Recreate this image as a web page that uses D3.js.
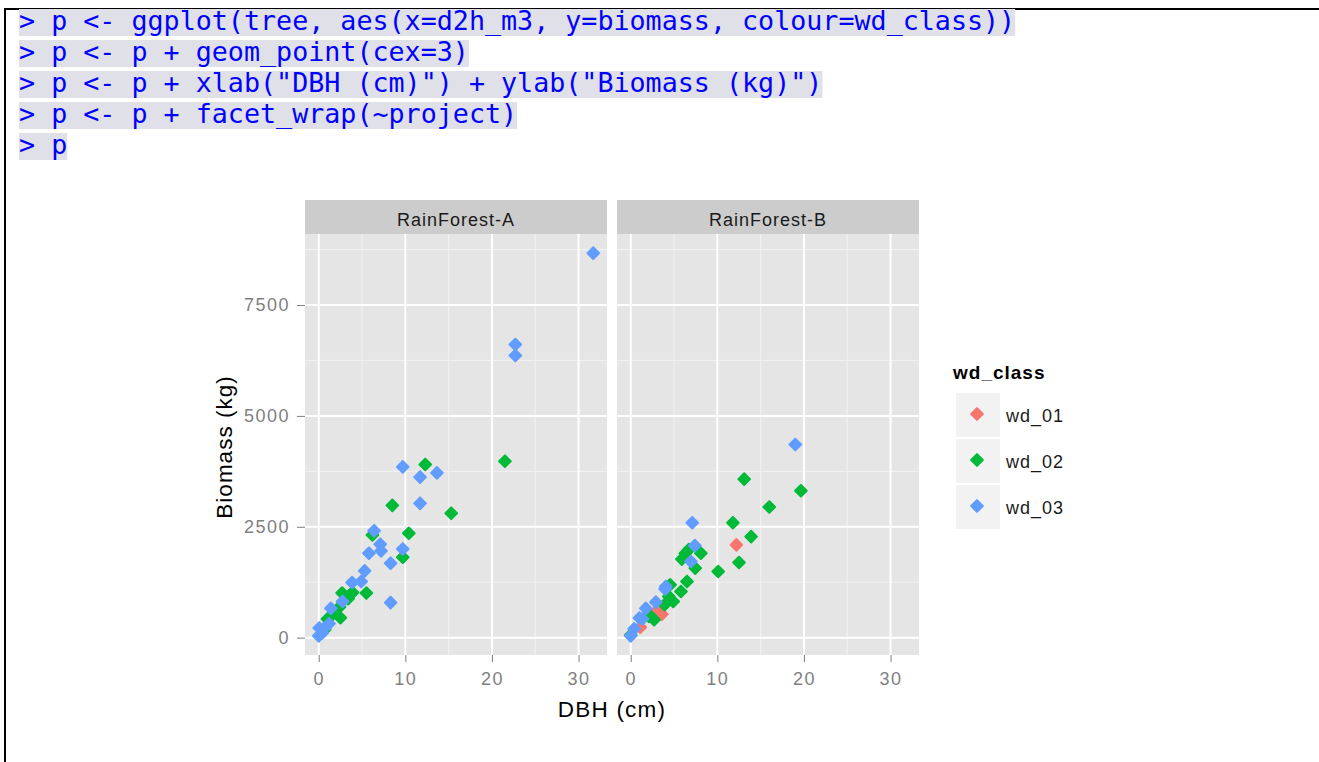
<!DOCTYPE html>
<html>
<head>
<meta charset="utf-8">
<script src="https://cdn.jsdelivr.net/npm/d3@7"></script>
<style>
  body { margin: 0; background: #fff; }
  svg { display: block; }
  .sans { font-family: Arial, "Liberation Sans", sans-serif; }
</style>
</head>
<body>
<svg id="chart" width="1319" height="762"></svg>
<script>
// console lines shown above the plot
const consoleLines = [
    '> p <- ggplot(tree, aes(x=d2h_m3, y=biomass, colour=wd_class))',
    '> p <- p + geom_point(cex=3)',
    '> p <- p + xlab("DBH (cm)") + ylab("Biomass (kg)")',
    '> p <- p + facet_wrap(~project)',
    '> p'
];

const projects = ["RainForest-A", "RainForest-B"];
const classes = ["wd_01", "wd_02", "wd_03"];
const classColours = ["#F8766D", "#00BA38", "#619CFF"];

const xTicks = [0, 10, 20, 30];
const xMinor = [5, 15, 25];
const yTicks = [0, 2500, 5000, 7500];
const yMinor = [1250, 3750, 6250, 8750];

// [DBH, biomass]
const rainA_wd01 = [];
const rainA_wd02 = [
    [12.3, 3904], [21.5, 3979], [8.5, 2983], [15.3, 2803], [6.2, 2315], [10.4, 2353],
    [9.7, 1814], [5.5, 1005], [2.7, 1005], [3.9, 1018], [3.4, 880], [2.4, 690],
    [2.5, 450], [1.0, 420], [1.6, 520], [0.7, 180], [3.6, 960]
];
const rainA_wd03 = [
    [31.7, 8670], [22.7, 6610], [22.7, 6362], [9.7, 3851], [11.7, 3619], [13.65, 3716],
    [11.7, 3028], [6.4, 2412], [7.1, 2106], [7.2, 1956], [5.8, 1904], [9.7, 2000],
    [8.3, 1679], [5.3, 1506], [4.9, 1265], [3.85, 1243], [8.3, 790], [2.75, 816],
    [1.4, 660], [1.2, 315], [0.5, 190], [0.06, 218], [0, 40], [0.4, 106]
];
const rainB_wd01 = [[12.2, 2091], [3.1, 630], [3.6, 530], [1.1, 236]];
const rainB_wd02 = [
    [13.1, 3574], [19.65, 3311], [16.0, 2945], [11.8, 2592], [13.9, 2277], [8.1, 1904],
    [6.7, 1985], [6.3, 1900], [5.9, 1770], [7.45, 1567], [12.5, 1693], [10.1, 1490],
    [6.5, 1266], [4.55, 1191], [5.8, 1041], [4.4, 928], [4.9, 816], [3.9, 742],
    [2.1, 517], [2.7, 405], [2.1, 479], [0, 60]
];
const rainB_wd03 = [
    [19.0, 4354], [7.1, 2592], [7.4, 2075], [6.95, 1715], [3.97, 1095], [4.05, 1153],
    [2.9, 800], [1.74, 660], [1.0, 443], [1.35, 420], [0.4, 200], [0, 40]
];

const panelData = [
    [rainA_wd01, rainA_wd02, rainA_wd03],
    [rainB_wd01, rainB_wd02, rainB_wd03]
];

drawChart();

function expand(ext) {
    const pad = (ext[1] - ext[0]) * 0.05;
    return [ext[0] - pad, ext[1] + pad];
}

function drawChart() {
    let svg = d3.select("#chart");

    // console frame
    svg.append("line").attr("x1", 5).attr("x2", 1319).attr("y1", 9).attr("y2", 9)
        .attr("stroke", "#000").attr("stroke-width", 2);
    svg.append("line").attr("x1", 5).attr("x2", 5).attr("y1", 8).attr("y2", 762)
        .attr("stroke", "#000").attr("stroke-width", 2);

    let con = svg.append("g");
    consoleLines.forEach(function (line, i) {
        let bg = con.append("rect").attr("x", 19).attr("y", 9 + i * 31)
            .attr("height", 27).attr("fill", "#e0e0e8");
        let t = con.append("text").attr("x", 19).attr("y", 30 + i * 31)
            .attr("font-family", "'DejaVu Sans Mono', 'Liberation Mono', monospace")
            .attr("font-size", 26.7).attr("fill", "#0000ff")
            .style("white-space", "pre")
            .text(line);
        bg.attr("width", t.node().getComputedTextLength());
    });

    // shared scales
    let all = panelData.flat(2);
    let xDom = expand([0, d3.max(all, d => d[0])]);
    let yDom = expand(d3.extent(all, d => d[1]));
    let y = d3.scaleLinear().domain(yDom).range([655, 234]);
    let panelX = [305, 617];
    let panelW = 302;

    let diamond = d3.symbol().type(d3.symbolSquare).size(68)();

    projects.forEach(function (name, p) {
        let left = panelX[p];
        let x = d3.scaleLinear().domain(xDom).range([left, left + panelW]);
        let g = svg.append("g").attr("class", "sans");

        g.append("rect").attr("x", left).attr("y", 234).attr("width", panelW).attr("height", 421)
            .attr("fill", "#e5e5e5");

        // minor grid
        g.selectAll(".xminor").data(xMinor).enter().append("line")
            .attr("x1", d => x(d)).attr("x2", d => x(d)).attr("y1", 234).attr("y2", 655)
            .attr("stroke", "#f2f2f2").attr("stroke-width", 1);
        g.selectAll(".yminor").data(yMinor).enter().append("line")
            .attr("x1", left).attr("x2", left + panelW).attr("y1", d => y(d)).attr("y2", d => y(d))
            .attr("stroke", "#f2f2f2").attr("stroke-width", 1);
        // major grid
        g.selectAll(".xmajor").data(xTicks).enter().append("line")
            .attr("x1", d => x(d)).attr("x2", d => x(d)).attr("y1", 234).attr("y2", 655)
            .attr("stroke", "#ffffff").attr("stroke-width", 2);
        g.selectAll(".ymajor").data(yTicks).enter().append("line")
            .attr("x1", left).attr("x2", left + panelW).attr("y1", d => y(d)).attr("y2", d => y(d))
            .attr("stroke", "#ffffff").attr("stroke-width", 2);

        // strip
        g.append("rect").attr("x", left).attr("y", 200).attr("width", panelW).attr("height", 34)
            .attr("fill", "#cccccc");
        g.append("text").attr("x", left + panelW / 2).attr("y", 226)
            .attr("text-anchor", "middle").attr("font-size", 18).attr("letter-spacing", 1)
            .attr("fill", "#1a1a1a").text(name);

        // points
        panelData[p].forEach(function (series, c) {
            g.append("g").selectAll("path").data(series).enter().append("path")
                .attr("d", diamond)
                .attr("transform", d => "translate(" + x(d[0]) + "," + y(d[1]) + ") rotate(45)")
                .attr("fill", classColours[c])
                .attr("stroke", classColours[c]).attr("stroke-width", 2)
                .attr("stroke-linejoin", "round");
        });

        // x axis
        let xa = g.append("g").attr("transform", "translate(0,655)")
            .call(d3.axisBottom(x).tickValues(xTicks).tickFormat(d3.format("d"))
                .tickSize(7).tickPadding(10));
        xa.select(".domain").remove();
        xa.selectAll("line").attr("stroke", "#7f7f7f");
        xa.selectAll("text").attr("fill", "#7f7f7f").attr("font-size", 18)
            .attr("font-family", "Arial, 'Liberation Sans', sans-serif").attr("letter-spacing", 1.5);

        if (p === 0) {
            let ya = g.append("g").attr("transform", "translate(" + left + ",0)")
                .call(d3.axisLeft(y).tickValues(yTicks).tickFormat(d3.format("d"))
                    .tickSize(8).tickPadding(7));
            ya.select(".domain").remove();
            ya.selectAll("line").attr("stroke", "#7f7f7f");
            ya.selectAll("text").attr("fill", "#7f7f7f").attr("font-size", 18)
                .attr("font-family", "Arial, 'Liberation Sans', sans-serif").attr("letter-spacing", 1.5);
        }
    });

    // axis titles
    svg.append("text").attr("class", "sans").attr("x", 612).attr("y", 717)
        .attr("text-anchor", "middle").attr("font-size", 22.5).attr("letter-spacing", 1.2)
        .attr("fill", "#000").text("DBH (cm)");
    svg.append("text").attr("class", "sans")
        .attr("transform", "translate(232,447) rotate(-90)")
        .attr("text-anchor", "middle").attr("font-size", 22.5).attr("letter-spacing", 1)
        .attr("fill", "#000").text("Biomass (kg)");

    // legend
    let leg = svg.append("g").attr("class", "sans");
    leg.append("text").attr("x", 953).attr("y", 379).attr("font-size", 19)
        .attr("font-weight", "bold").attr("letter-spacing", 1).attr("fill", "#000").text("wd_class");
    classes.forEach(function (cl, i) {
        let top = 393 + i * 46;
        leg.append("rect").attr("x", 956).attr("y", top).attr("width", 44).attr("height", 44)
            .attr("fill", "#f2f2f2");
        leg.append("path").attr("d", diamond)
            .attr("transform", "translate(977," + (top + 21) + ") rotate(45)")
            .attr("fill", classColours[i]).attr("stroke", classColours[i]).attr("stroke-width", 2)
            .attr("stroke-linejoin", "round");
        leg.append("text").attr("x", 1006).attr("y", top + 29).attr("font-size", 18)
            .attr("letter-spacing", 1).attr("fill", "#1a1a1a").text(cl);
    });
}
</script>
</body>
</html>
